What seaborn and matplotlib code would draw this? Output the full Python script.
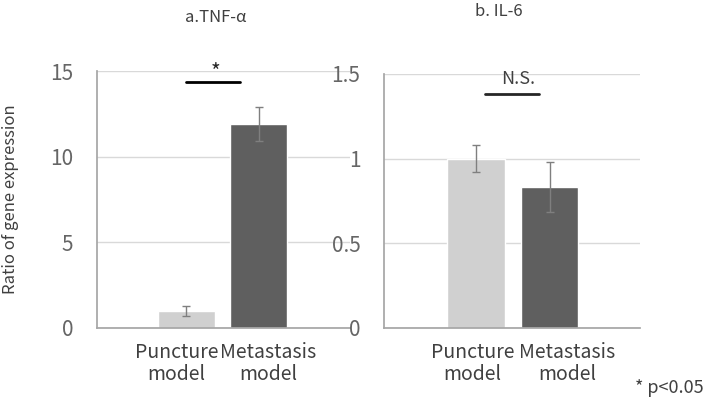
import matplotlib
matplotlib.use("Agg")
import matplotlib.pyplot as plt
import seaborn as sns
import pandas as pd

# données
models = ["Puncture\nmodel", "Metastasis\nmodel"]
tnf_mean = [1.0, 11.9]
tnf_err = [0.29, 0.98]
il6_mean = [1.0, 0.833]
il6_err = [0.08, 0.15]
bar_colors = ["#d0d0d0", "#5f5f5f"]

sns.set_theme(style="white")
plt.rcParams["font.family"] = ["Noto Sans CJK JP", "DejaVu Sans"]

fig = plt.figure(figsize=(7.06, 4.0), dpi=100)
ax1 = fig.add_axes([0.1374, 0.18, 0.358, 0.6425])
ax2 = fig.add_axes([0.5439, 0.18, 0.3626, 0.635])

grid_c = "#d9d9d9"
spine_c = "#a6a6a6"
tick_c = "#666666"
text_c = "#404040"


def draw_panel(ax, means, errs, ymax, yticks, yticklabels, xlim, label_pos):
    df = pd.DataFrame({"model": models, "value": means})
    sns.barplot(data=df, x="model", y="value", hue="model", palette=bar_colors,
                width=0.785, legend=False, ax=ax, zorder=2)
    ax.errorbar(range(len(means)), means, yerr=errs, fmt="none",
                ecolor="#7f7f7f", elinewidth=1, capsize=3, capthick=1, zorder=3)
    ax.set_ylim(0, ymax)
    ax.set_xlim(*xlim)
    ax.set_yticks(yticks)
    ax.set_yticklabels(yticklabels)
    # étiquettes décalées comme dans l'original
    ax.set_xticks(label_pos)
    ax.set_xticklabels(models)
    ax.yaxis.grid(True, color=grid_c, linewidth=1)
    ax.set_axisbelow(True)
    for s in ["top", "right"]:
        ax.spines[s].set_visible(False)
    ax.spines["left"].set_color(spine_c)
    ax.spines["bottom"].set_color(spine_c)
    ax.tick_params(axis="y", length=0, pad=17, labelsize=15, labelcolor=tick_c)
    ax.tick_params(axis="x", length=0, pad=10, labelsize=14, labelcolor=text_c)
    for t in ax.get_xticklabels():
        t.set_linespacing(1.1)
    ax.set_xlabel("")
    ax.set_ylabel("")
    ax.set_facecolor("none")


draw_panel(ax1, tnf_mean, tnf_err, 15, [0, 5, 10, 15], ["0", "5", "10", "15"],
           (-1.23, 2.26), [-0.13, 1.13])
draw_panel(ax2, il6_mean, il6_err, 1.5, [0, 0.5, 1.0, 1.5], ["0", "0.5", "1", "1.5"],
           (-1.25, 2.23), [-0.05, 1.24])

# ligne de significativité
ax1.plot([0.0, 0.74], [14.35, 14.35], color="black", lw=2, clip_on=False)
ax1.text(0.41, 14.9, "*", ha="center", va="center", fontsize=15, color="#262626")
ax2.plot([0.12, 0.86], [1.382, 1.382], color="#262626", lw=2, clip_on=False)
ax2.text(0.57, 1.42, "N.S.", ha="center", va="bottom", fontsize=13, color=text_c)

fig.text(216 / 706, 1 - 17 / 400, "a.TNF-α", ha="center", va="center", fontsize=12, color=text_c)
fig.text(499 / 706, 1 - 11 / 400, "b. IL-6", ha="center", va="center", fontsize=12, color=text_c)
fig.text(11 / 706, 1 - 199 / 400, "Ratio of gene expression", rotation=90,
         ha="center", va="center", fontsize=12, color=text_c)
fig.text(0.997, 1 - 388 / 400, "* p<0.05", ha="right", va="center", fontsize=13, color=text_c)

fig.savefig("out.png", dpi=100)
